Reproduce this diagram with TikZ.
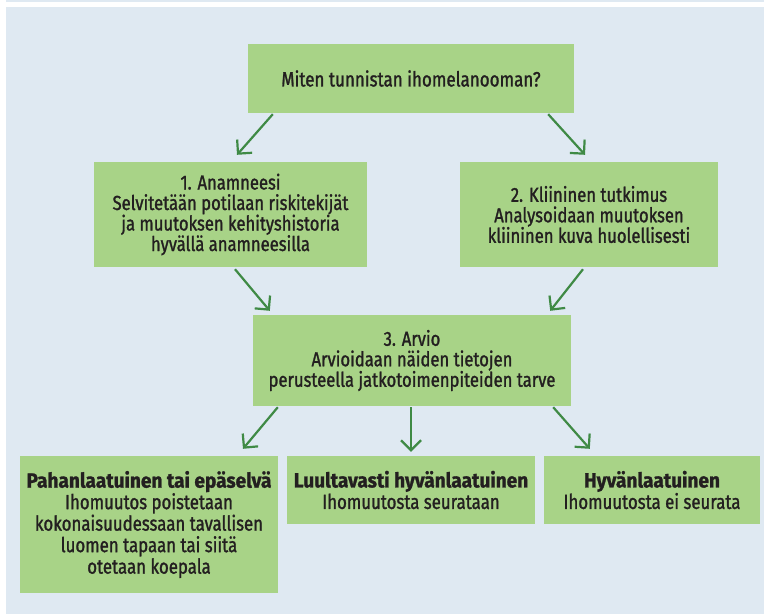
\documentclass[tikz,border=0pt]{standalone}
\usepackage{fontspec}
\setmainfont{Fira Sans}[FakeStretch=0.82, UprightFeatures={FakeBold=1.3}, BoldFeatures={FakeStretch=0.93, FakeBold=1.2}]
\usetikzlibrary{arrows.meta,calc}
\definecolor{bg}{HTML}{DFE9F2}
\definecolor{boxg}{HTML}{A8D387}
\definecolor{arr}{HTML}{3F8A45}
\definecolor{txt}{HTML}{231F20}
\begin{document}
\begin{tikzpicture}[x=1pt,y=-1pt,
 box/.style={fill=boxg, draw=none, align=center, text=txt, inner sep=0pt, font=\fontsize{20.3}{20.5}\selectfont},
 bigbox/.style={box, font=\fontsize{20.5}{21.5}\selectfont},
 conn/.style={draw=arr, line width=2.2pt, -{Straight Barb[length=10pt,width=20pt]}}]
\useasboundingbox (0,0) rectangle (764,614);
\fill[white] (0,0) rectangle (764,614);
\fill[bg] (6,0) rectangle (764,2);
\fill[bg] (6,7) rectangle (764,614);
\node[box, minimum width=326pt, minimum height=69pt, font=\fontsize{20.7}{24}\selectfont] (top) at (411,78.5) {Miten tunnistan ihomelanooman?};
\node[box, minimum width=273pt, minimum height=105pt] (b1) at (230.5,214.5) {1. Anamneesi\\Selvitetään potilaan riskitekijät\\ja muutoksen kehityshistoria\\hyvällä anamneesilla};
\node[box, minimum width=258pt, minimum height=105pt] (b2) at (589,214.5) {2. Kliininen tutkimus\\Analysoidaan muutoksen\\kliininen kuva huolellisesti};
\node[box, minimum width=318pt, minimum height=91pt] (b3) at (412,360.5) {3. Arvio\\Arvioidaan näiden tietojen\\perusteella jatkotoimenpiteiden tarve};
\node[bigbox, minimum width=258pt, minimum height=137pt] (ba) at (149,524.5) {\textbf{Pahanlaatuinen tai epäselvä}\\Ihomuutos poistetaan\\kokonaisuudessaan tavallisen\\luomen tapaan tai siitä\\otetaan koepala};
\node[bigbox, minimum width=248pt, minimum height=68pt] (bb) at (411,490) {\textbf{Luultavasti hyvänlaatuinen}\\Ihomuutosta seurataan};
\node[bigbox, minimum width=216pt, minimum height=68pt] (bc) at (652,490) {\textbf{Hyvänlaatuinen}\\Ihomuutosta ei seurata};
\draw[conn] ($(top.south west)+(25,1)$) -- ($(b1.north)+(6.5,-7)$);
\draw[conn] ($(top.south east)+(-26,1)$) -- ($(b2.north)+(-4,-7)$);
\draw[conn] ($(b1.south)+(4.5,2)$) -- ($(b3.north west)+(17,-4)$);
\draw[conn] ($(b2.south)+(-6,2)$) -- ($(b3.north east)+(-21,-4)$);
\draw[conn] ($(b3.south west)+(25,1)$) -- ($(ba.north)+(94,-7)$);
\draw[conn] ($(b3.south)+(-1,1)$) -- ($(bb.north)+(0,-4)$);
\draw[conn] ($(b3.south east)+(-18,1)$) -- ($(bc.north west)+(46,-7)$);
\end{tikzpicture}
\end{document}
